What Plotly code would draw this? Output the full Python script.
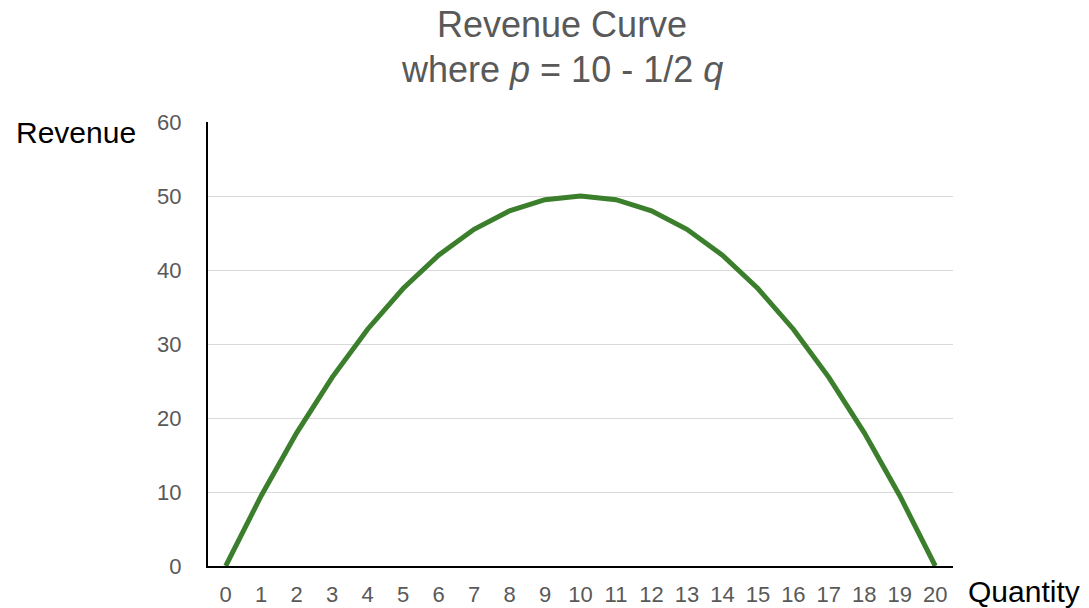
import plotly.graph_objects as go

quantity = list(range(0, 21))
revenue = [0, 9.5, 18, 25.5, 32, 37.5, 42, 45.5, 48, 49.5, 50,
           49.5, 48, 45.5, 42, 37.5, 32, 25.5, 18, 9.5, 0]
y_ticks = [0, 10, 20, 30, 40, 50, 60]

FONT = "Liberation Sans, Arial, sans-serif"
GRAY = "#595959"

fig = go.Figure()
fig.add_trace(go.Scatter(x=quantity, y=revenue, mode="lines",
                         line=dict(color="#3b7f2d", width=5),
                         hoverinfo="x+y", showlegend=False))

L, R, T, B = 208, 136, 122, 42
W, H = 1089, 608
pw = W - L - R
ph = H - T - B


def px_x(x):
    return (x - L) / pw


def px_y(y):
    return 1 - (y - T) / ph


fig.update_layout(
    width=W, height=H,
    margin=dict(l=L, r=R, t=T, b=B, pad=0, autoexpand=False),
    paper_bgcolor="white", plot_bgcolor="white",
    font=dict(family=FONT, color=GRAY),
    xaxis=dict(range=[-0.5, 20.5], tickmode="array", tickvals=quantity,
               ticktext=[str(q) for q in quantity],
               showgrid=False, zeroline=False, automargin=False,
               showline=True, linecolor="black", linewidth=2,
               ticks="", tickfont=dict(size=22, color=GRAY, family=FONT),
               ticklabelstandoff=8),
    yaxis=dict(range=[0, 60], tickmode="array", tickvals=y_ticks,
               showgrid=True, gridcolor="#d9d9d9", gridwidth=1,
               zeroline=False, showline=True, linecolor="black", linewidth=2,
               automargin=False,
               ticks="", tickfont=dict(size=22, color=GRAY, family=FONT),
               ticklabelstandoff=20),
    annotations=[
        dict(text="Revenue Curve",
             xref="paper", yref="paper",
             x=px_x(562), y=px_y(24),
             xanchor="center", yanchor="middle", showarrow=False,
             font=dict(size=36, color=GRAY, family=FONT)),
        dict(text="where <i>p</i> = 10 - 1/2 <i>q</i>",
             xref="paper", yref="paper",
             x=px_x(562), y=px_y(69),
             xanchor="center", yanchor="middle", showarrow=False,
             font=dict(size=36, color=GRAY, family=FONT)),
        dict(text="Revenue", xref="paper", yref="paper",
             x=px_x(76), y=px_y(132),
             xanchor="center", yanchor="middle", showarrow=False,
             font=dict(size=30, color="black", family=FONT)),
        dict(text="Quantity", xref="paper", yref="paper",
             x=px_x(1024), y=px_y(591),
             xanchor="center", yanchor="middle", showarrow=False,
             font=dict(size=30, color="black", family=FONT)),
    ],
)

fig.write_html("out.html", config={"displayModeBar": False},
               post_script="document.body.style.margin='0';")
